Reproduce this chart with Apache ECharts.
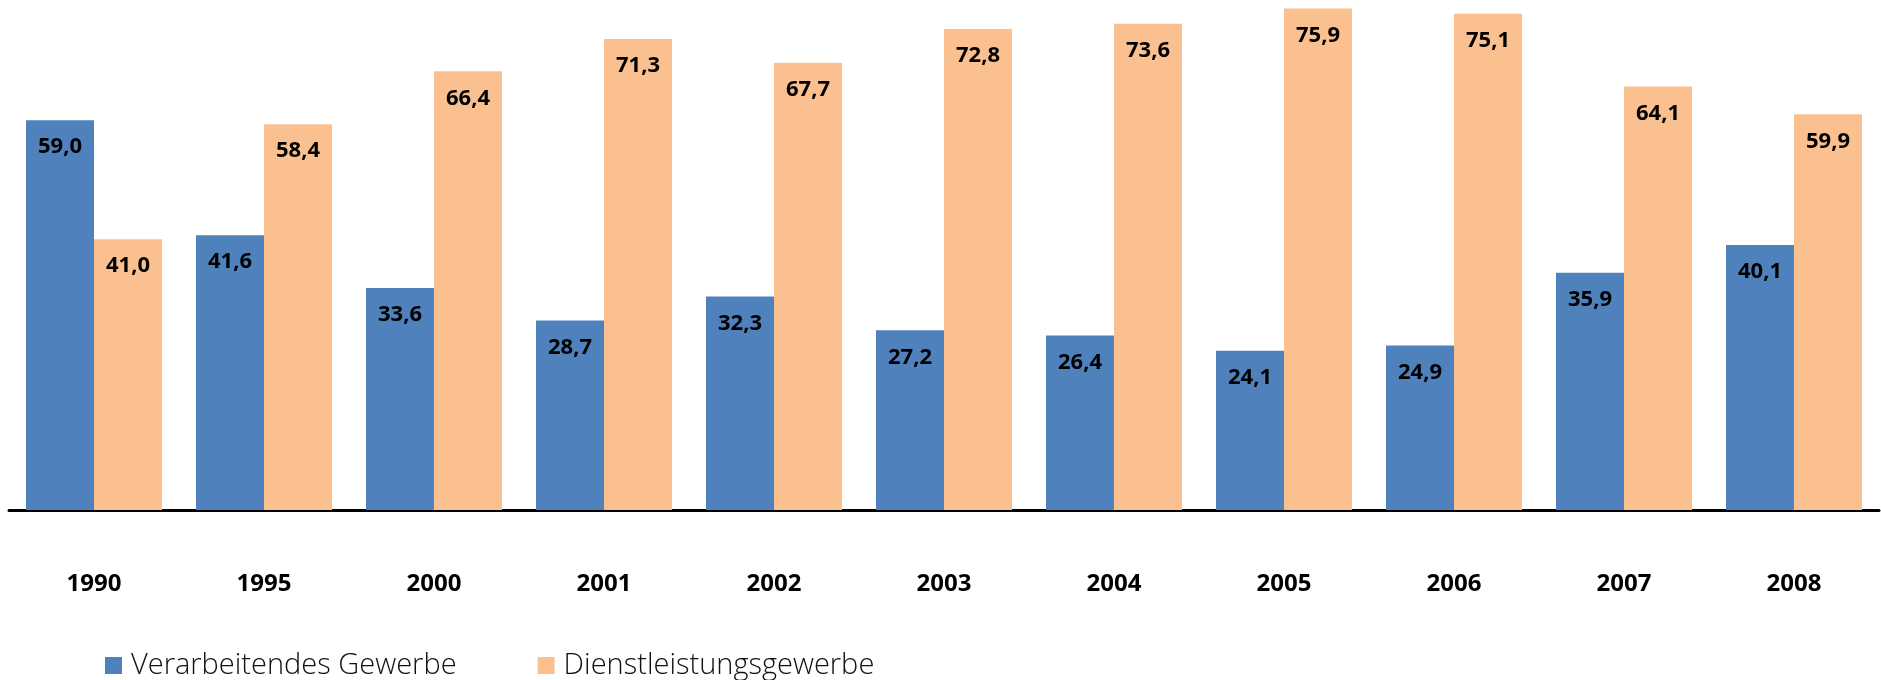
<!DOCTYPE html>
<html lang="de">
<head>
    <meta charset="UTF-8">
    <title>Verarbeitendes Gewerbe / Dienstleistungsgewerbe</title>
    <style>
        html, body { margin: 0; padding: 0; background: #fff; }
    </style>
</head>
<body>
    <div id="main" style="width:1881px; height:680px;"></div>
    <script src="https://cdn.jsdelivr.net/npm/echarts@6/dist/echarts.min.js"></script>
    <script>
    // Jahre und Anteile (%)
    var years = ['1990', '1995', '2000', '2001', '2002', '2003', '2004', '2005', '2006', '2007', '2008'];
    var verarbeitend = [59.0, 41.6, 33.6, 28.7, 32.3, 27.2, 26.4, 24.1, 24.9, 35.9, 40.1];
    var dienstleistung = [41.0, 58.4, 66.4, 71.3, 67.7, 72.8, 73.6, 75.9, 75.1, 64.1, 59.9];

    var fontFam = '"Open Sans", "Noto Sans", sans-serif';

    // Dezimalkomma statt Punkt
    var fmt = function (p) {
        return p.value.toFixed(1).replace('.', ',');
    };

    var labelStyle = {
        show: true,
        position: 'insideTop',
        distance: 16,
        formatter: fmt,
        color: '#000',
        fontFamily: fontFam,
        fontWeight: 'bold',
        fontSize: 22
    };

    var myChart = echarts.init(document.getElementById('main'));

    myChart.setOption({
        animation: false,
        grid: {
            left: 9,
            right: 2,
            top: 0,
            bottom: 170
        },
        legend: {
            left: 100,
            top: 646,
            itemWidth: 17,
            itemHeight: 17,
            itemGap: 81,
            icon: 'rect',
            textStyle: {
                fontFamily: fontFam,
                fontWeight: 300,
                fontSize: 29,
                color: '#111',
                padding: [0, 0, 0, 4]
            },
            data: ['Verarbeitendes Gewerbe', 'Dienstleistungsgewerbe']
        },
        xAxis: {
            type: 'category',
            data: years,
            axisLine: { lineStyle: { color: '#000', width: 3 } },
            axisTick: {
                show: true,
                alignWithLabel: true,
                inside: true,
                length: 4,
                lineStyle: { color: '#000', width: 2 }
            },
            axisLabel: {
                margin: 62,
                color: '#000',
                fontFamily: fontFam,
                fontWeight: 'bold',
                fontSize: 24
            }
        },
        yAxis: {
            type: 'value',
            min: 0,
            max: 77.2,
            show: false,
            splitLine: { show: false }
        },
        series: [
            {
                name: 'Verarbeitendes Gewerbe',
                type: 'bar',
                barGap: '0%',
                barCategoryGap: '20%',
                itemStyle: { color: '#4F81BD' },
                label: labelStyle,
                data: verarbeitend
            },
            {
                name: 'Dienstleistungsgewerbe',
                type: 'bar',
                barGap: '0%',
                barCategoryGap: '20%',
                itemStyle: { color: '#FAC090' },
                label: labelStyle,
                data: dienstleistung
            }
        ]
    });
    </script>
</body>
</html>
